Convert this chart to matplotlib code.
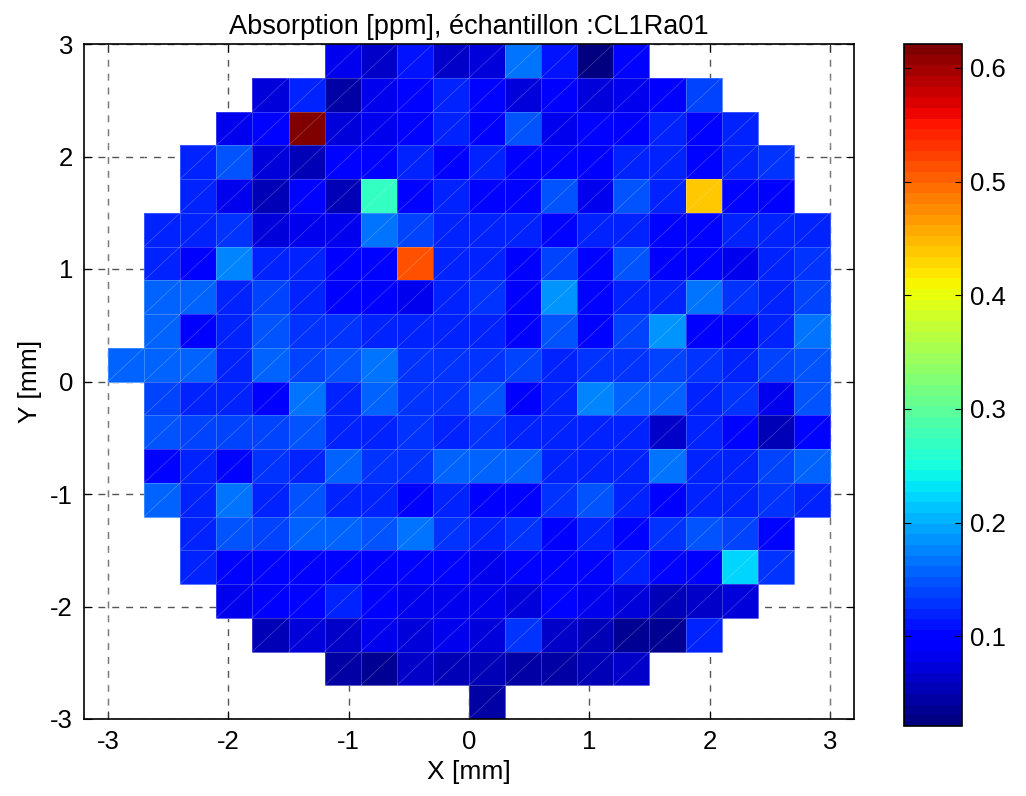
import numpy as np
import matplotlib
matplotlib.use("Agg")
from matplotlib import pyplot as plt
from matplotlib.collections import LineCollection

# absorption map, rows from top (y = 3) to bottom (y = -3), 0.3 mm pixels
x_edges = np.linspace(-3, 3, 21)
y_edges = np.linspace(3, -3, 21)

row_start = [6, 4, 3, 2, 2, 1, 1, 1, 1, 0, 1, 1, 1, 1, 2, 2, 3, 4, 6, 10]
rows = [
	[0.085, 0.06, 0.11, 0.065, 0.075, 0.17, 0.11, 0.021, 0.10],
	[0.07, 0.12, 0.048, 0.085, 0.105, 0.12, 0.10, 0.07, 0.093, 0.07, 0.078, 0.093, 0.14],
	[0.078, 0.105, 0.621, 0.07, 0.078, 0.105, 0.12, 0.093, 0.145, 0.078, 0.105, 0.093, 0.115, 0.105, 0.12],
	[0.12, 0.15, 0.07, 0.055, 0.105, 0.105, 0.12, 0.093, 0.12, 0.093, 0.105, 0.093, 0.115, 0.12, 0.105, 0.12, 0.13],
	[0.12, 0.078, 0.055, 0.10, 0.055, 0.265, 0.105, 0.115, 0.105, 0.105, 0.145, 0.078, 0.145, 0.115, 0.44, 0.105, 0.093],
	[0.12, 0.115, 0.13, 0.07, 0.085, 0.085, 0.17, 0.14, 0.115, 0.115, 0.115, 0.10, 0.115, 0.12, 0.105, 0.10, 0.115, 0.12, 0.12],
	[0.12, 0.093, 0.175, 0.12, 0.12, 0.093, 0.105, 0.51, 0.115, 0.115, 0.093, 0.14, 0.105, 0.145, 0.093, 0.105, 0.085, 0.115, 0.13],
	[0.16, 0.153, 0.12, 0.14, 0.12, 0.093, 0.093, 0.078, 0.115, 0.13, 0.093, 0.185, 0.105, 0.12, 0.115, 0.17, 0.13, 0.115, 0.14],
	[0.16, 0.093, 0.115, 0.145, 0.13, 0.13, 0.115, 0.12, 0.115, 0.12, 0.093, 0.145, 0.105, 0.14, 0.185, 0.093, 0.105, 0.115, 0.17],
	[0.153, 0.16, 0.153, 0.12, 0.153, 0.14, 0.145, 0.17, 0.13, 0.13, 0.13, 0.14, 0.12, 0.13, 0.13, 0.14, 0.13, 0.12, 0.14, 0.145],
	[0.14, 0.12, 0.12, 0.093, 0.17, 0.12, 0.153, 0.13, 0.13, 0.145, 0.093, 0.12, 0.175, 0.153, 0.16, 0.12, 0.13, 0.085, 0.145],
	[0.145, 0.14, 0.14, 0.14, 0.145, 0.115, 0.12, 0.13, 0.115, 0.13, 0.115, 0.115, 0.115, 0.12, 0.063, 0.115, 0.105, 0.055, 0.10],
	[0.105, 0.12, 0.105, 0.13, 0.115, 0.153, 0.13, 0.13, 0.16, 0.16, 0.153, 0.12, 0.115, 0.12, 0.17, 0.12, 0.115, 0.14, 0.16],
	[0.153, 0.12, 0.17, 0.12, 0.145, 0.12, 0.115, 0.093, 0.12, 0.093, 0.093, 0.13, 0.145, 0.12, 0.093, 0.12, 0.12, 0.13, 0.12],
	[0.12, 0.145, 0.14, 0.153, 0.16, 0.145, 0.17, 0.13, 0.115, 0.13, 0.093, 0.115, 0.105, 0.13, 0.145, 0.14, 0.105],
	[0.115, 0.105, 0.105, 0.093, 0.105, 0.093, 0.105, 0.10, 0.085, 0.105, 0.105, 0.105, 0.12, 0.105, 0.093, 0.22, 0.13],
	[0.085, 0.093, 0.10, 0.12, 0.093, 0.085, 0.085, 0.085, 0.07, 0.105, 0.078, 0.07, 0.055, 0.063, 0.07],
	[0.055, 0.07, 0.063, 0.078, 0.07, 0.085, 0.07, 0.13, 0.063, 0.055, 0.033, 0.035, 0.115],
	[0.048, 0.033, 0.063, 0.055, 0.055, 0.048, 0.04, 0.055, 0.063],
	[0.04],
]

Z = np.full((20, 20), np.nan)
for i, vals in enumerate(rows):
	Z[i, row_start[i]:row_start[i] + len(vals)] = vals

plt.rcParams['font.family'] = ['Liberation Sans', 'DejaVu Sans']
plt.rcParams['axes.unicode_minus'] = False

fig = plt.figure(figsize=(10.26, 7.96), dpi=100)
ax = fig.add_axes([84/1026, 1 - 719/796, 770/1026, 675/796])
cax = fig.add_axes([904/1026, 1 - 726/796, 58/1026, 682/796])

cmap = plt.get_cmap('jet', 64)
mesh = ax.pcolormesh(x_edges, y_edges, np.ma.masked_invalid(Z), cmap=cmap,
	vmin=np.nanmin(Z), vmax=np.nanmax(Z), edgecolors=(1, 1, 1, 0.22), linewidth=0.7)

# faint diagonals from the triangulated rendering
segs = []
for i in range(20):
	for j in range(20):
		if not np.isnan(Z[i, j]):
			segs.append([(x_edges[j], y_edges[i + 1]), (x_edges[j + 1], y_edges[i])])
ax.add_collection(LineCollection(segs, colors=(1, 1, 1, 0.25), linewidths=0.5))

ax.set_xlim(-3.2, 3.2)
ax.set_ylim(-3, 3)
ax.set_xticks(np.arange(-3, 4))
ax.set_yticks(np.arange(-3, 4))
ax.set_axisbelow(True)
ax.grid(True, color='#555555', linestyle=(0, (5, 5)), linewidth=1)
ax.tick_params(direction='in', top=True, right=True, length=6, labelsize=18.5, pad=8)
for s in ax.spines.values():
	s.set_linewidth(1.2)
ax.set_xlabel("X [mm]", fontsize=19, labelpad=4)
ax.set_ylabel("Y [mm]", fontsize=19, labelpad=6)
ax.set_title("Absorption [ppm], échantillon :CL1Ra01", fontsize=19.5, pad=7)

cb = fig.colorbar(mesh, cax=cax)
cb.set_ticks([0.1, 0.2, 0.3, 0.4, 0.5, 0.6])
cb.ax.tick_params(direction='in', left=True, right=True, length=5, labelsize=18.5, pad=6)
cb.outline.set_linewidth(1.2)

plt.savefig("out.png")
